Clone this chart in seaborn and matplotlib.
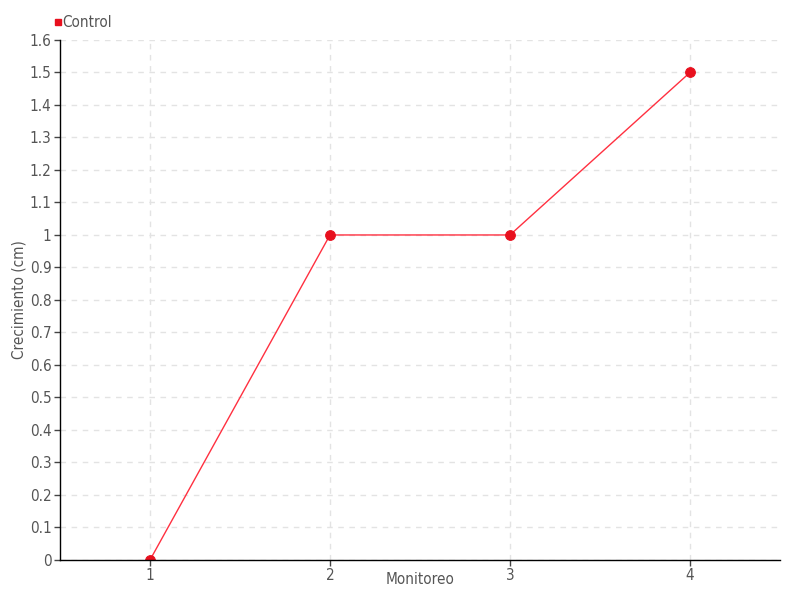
import matplotlib
matplotlib.use("Agg")
import matplotlib.pyplot as plt
import pandas as pd
import seaborn as sns
from matplotlib.ticker import FuncFormatter, MultipleLocator
from matplotlib.lines import Line2D

monitoreo = [1, 2, 3, 4]
crecimiento = [0, 1, 1, 1.5]
serie = "Control"

df = pd.DataFrame({"Monitoreo": monitoreo, "Crecimiento": crecimiento})

sns.set_style("white")
plt.rcParams["font.family"] = ["DejaVu Sans"]
plt.rcParams["font.stretch"] = "condensed"

fig = plt.figure(figsize=(8, 6), dpi=100)
ax = fig.add_axes([0.075, 0.0667, 0.9, 0.8667])

sns.lineplot(data=df, x="Monitoreo", y="Crecimiento", ax=ax, color="#ff3040",
             linewidth=1, marker="o", markersize=7, markerfacecolor="#e8101e",
             markeredgecolor="#e8101e")

ax.set_xlim(0.5, 4.5)
ax.set_ylim(0, 1.6)
ax.set_xticks(monitoreo)
ax.yaxis.set_major_locator(MultipleLocator(0.1))
ax.yaxis.set_major_formatter(FuncFormatter(lambda v, p: "%g" % round(v, 1)))
ax.grid(True, color="#e3e3e3", linestyle=(0, (4, 4)), linewidth=1)
ax.set_axisbelow(True)

for s in ["top", "right"]:
    ax.spines[s].set_visible(False)
for s in ["left", "bottom"]:
    ax.spines[s].set_color("black")
    ax.spines[s].set_linewidth(1)

ax.tick_params(axis="both", direction="out", length=4, width=1, color="#444444",
               labelsize=11, labelcolor="#555555", left=True, bottom=True, pad=2)
ax.set_xlabel("Monitoreo", fontsize=11, color="#555555")
ax.set_ylabel("Crecimiento (cm)", fontsize=11, color="#555555")
ax.xaxis.set_label_coords(0.5, -0.038, transform=ax.transAxes)
ax.yaxis.set_label_coords(-0.057, 0.5, transform=ax.transAxes)
ax.xaxis.label.set_verticalalignment("center")
ax.yaxis.label.set_verticalalignment("center")

handle = Line2D([], [], linestyle="none", marker="s", markersize=5,
                markerfacecolor="#e8101e", markeredgecolor="#e8101e")
fig.legend([handle], [serie], loc="upper left", bbox_to_anchor=(0.055, 0.985),
           frameon=False, fontsize=11, handletextpad=-0.2, labelcolor="#555555",
           borderaxespad=0, handlelength=1)

fig.savefig("out.png", dpi=100)
